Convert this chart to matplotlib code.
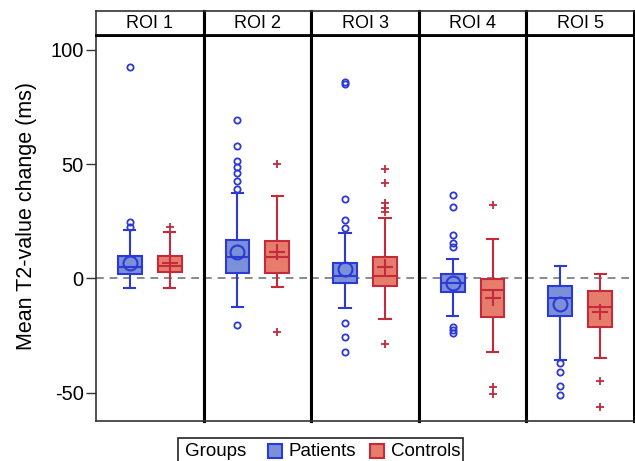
import matplotlib
matplotlib.use('Agg')
import matplotlib.pyplot as plt
from matplotlib.patches import Rectangle

plt.rcParams['font.family'] = ['Liberation Sans', 'DejaVu Sans']
plt.rcParams['axes.unicode_minus'] = False

# data (ms)
rois = ['ROI 1', 'ROI 2', 'ROI 3', 'ROI 4', 'ROI 5']
groups = ['Patients', 'Controls']
yticks = [-50, 0, 50, 100]

pat_q1 = [1.8, 2.3, -2.1, -6.0, -16.4]
pat_med = [5.2, 9.5, 1.1, -2.1, -8.4]
pat_q3 = [10.0, 16.8, 6.9, 1.8, -3.3]
pat_whislo = [-4.3, -12.3, -13.0, -16.4, -35.8]
pat_whishi = [21.0, 37.2, 20.0, 8.7, 5.5]
pat_mean = [6.6, 11.7, 4.0, -2.1, -11.3]
pat_fliers = [
    [92.6, 24.6, 22.5],
    [69.3, 57.9, 51.4, 48.9, 46.0, 42.6, 39.0, -20.3],
    [86.0, 84.8, 34.6, 25.6, 21.9, -19.3, -25.4, -32.3],
    [36.4, 31.1, 19.0, 15.4, 13.9, -21.0, -22.5, -23.7],
    [-36.8, -40.7, -47.0, -50.8],
]

con_q1 = [2.8, 2.5, -3.1, -16.7, -21.0]
con_med = [5.5, 9.5, 1.1, -5.0, -12.6]
con_q3 = [10.0, 16.5, 9.3, -0.4, -5.3]
con_whislo = [-4.3, -3.6, -17.7, -32.0, -34.9]
con_whishi = [20.2, 36.0, 26.3, 17.3, 1.8]
con_mean = [6.9, 11.4, 4.9, -8.7, -14.5]
con_fliers = [
    [22.6],
    [49.9, -23.2],
    [47.9, 41.6, 32.9, 30.7, 29.2, -28.6],
    [32.0, -47.6, -50.5],
    [-44.7, -56.3],
]

pat_edge, pat_fill = '#2b3ad6', '#7b90d6'
con_edge, con_fill = '#c42a3a', '#e67c6c'

W, H = 635, 461
fig = plt.figure(figsize=(W / 100, H / 100), dpi=100)


def fx(px):
    return px / W


def fy(px):
    return 1 - px / H


left, right = 96, 634
hdr_top, plot_top, plot_bot = 11.5, 35, 421
pw = (right - left) / 5


def style(edge, fill, mean_marker, mean_ms, flier_marker, flier_ms):
    return dict(
        patch_artist=True, showmeans=True, manage_ticks=False,
        widths=0.6, capwidths=0.28,
        boxprops=dict(facecolor=fill, edgecolor=edge, linewidth=1.5),
        whiskerprops=dict(color=edge, linewidth=1.5),
        capprops=dict(color=edge, linewidth=1.5),
        medianprops=dict(color=edge, linewidth=1.5),
        meanprops=dict(marker=mean_marker, markerfacecolor='none', markeredgecolor=edge,
                       markersize=mean_ms, markeredgewidth=1.5),
        flierprops=dict(marker=flier_marker, markerfacecolor='none', markeredgecolor=edge,
                        markersize=flier_ms, markeredgewidth=1.3),
    )


pat_style = style(pat_edge, pat_fill, 'o', 10, 'o', 4.5)
con_style = style(con_edge, con_fill, '+', 12, '+', 6)

for i, roi in enumerate(rois):
    x0 = left + i * pw
    ax = fig.add_axes([fx(x0), fy(plot_bot), pw / W, (plot_bot - plot_top) / H])
    hx = fig.add_axes([fx(x0), fy(plot_top), pw / W, (plot_top - hdr_top) / H])

    pat = dict(q1=pat_q1[i], med=pat_med[i], q3=pat_q3[i], whislo=pat_whislo[i],
               whishi=pat_whishi[i], mean=pat_mean[i], fliers=pat_fliers[i])
    con = dict(q1=con_q1[i], med=con_med[i], q3=con_q3[i], whislo=con_whislo[i],
               whishi=con_whishi[i], mean=con_mean[i], fliers=con_fliers[i])

    ax.axhline(0, color='#8a8a8a', linewidth=1.4, linestyle=(0, (4, 3)), zorder=0)
    ax.bxp([pat], positions=[0], **pat_style)
    ax.bxp([con], positions=[1], **con_style)

    ax.set_xlim(-0.85, 1.85)
    ax.set_ylim(-62.3, 106.4)
    ax.set_xticks([])

    if i == 0:
        ax.set_yticks(yticks)
        ax.tick_params(axis='y', length=7, width=1, pad=2, labelsize=14.5, color='#333333')
    else:
        ax.set_yticks([])

    for a in (ax, hx):
        a.spines['left'].set_linewidth(1.2 if i == 0 else 2.2)
        a.spines['left'].set_color('#333333' if i == 0 else 'black')
        a.spines['right'].set_linewidth(2.2)
        a.spines['right'].set_color('black')
    ax.spines['top'].set_linewidth(2.0)
    ax.spines['bottom'].set_linewidth(1.2)
    ax.spines['bottom'].set_color('#333333')

    hx.set_xticks([])
    hx.set_yticks([])
    hx.spines['top'].set_linewidth(1.2)
    hx.spines['top'].set_color('#333333')
    hx.spines['bottom'].set_linewidth(2.0)
    hx.text(0.5, 0.5, roi, ha='center', va='center', fontsize=13, transform=hx.transAxes)

fig.text(fx(27), fy(216.5), 'Mean T2-value change (ms)', rotation=90,
         ha='center', va='center', fontsize=15.5)

# legend strip at the bottom
fig.patches.append(Rectangle((fx(178), fy(470)), (463 - 178) / W, (470 - 437.5) / H,
                             transform=fig.transFigure, facecolor='white',
                             edgecolor='#222222', linewidth=1.2))
fig.text(fx(185), fy(451.5), 'Groups', ha='left', va='center', fontsize=13.5)
for px, name, edge, fill in [(268, groups[0], pat_edge, pat_fill),
                             (370, groups[1], con_edge, con_fill)]:
    fig.patches.append(Rectangle((fx(px), fy(457.5)), 14 / W, 14 / H,
                                 transform=fig.transFigure, facecolor=fill,
                                 edgecolor=edge, linewidth=1.5))
    fig.text(fx(px + 21), fy(451.5), name, ha='left', va='center', fontsize=13.5)

fig.savefig('out.png', dpi=100)
